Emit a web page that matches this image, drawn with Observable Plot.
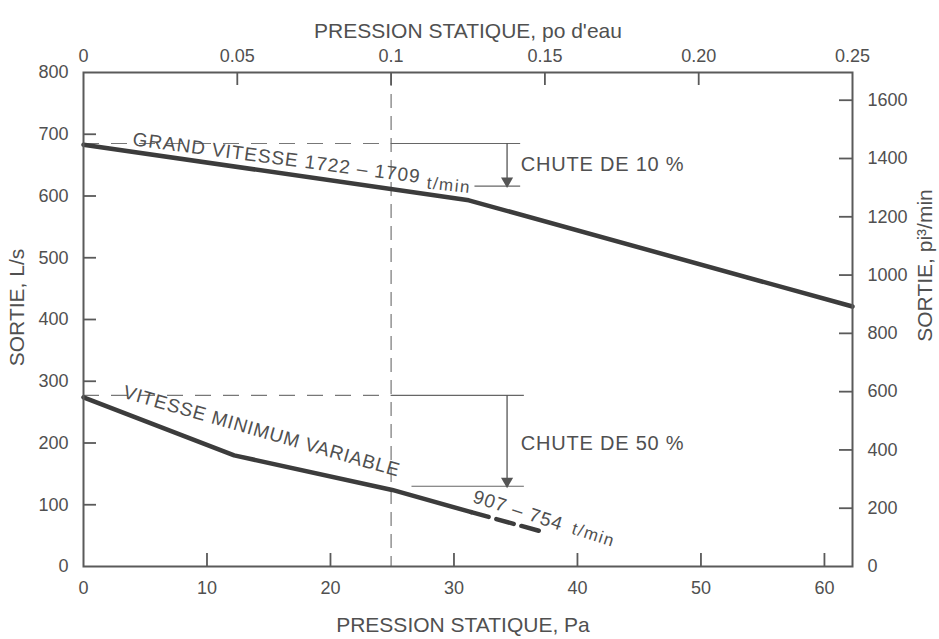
<!DOCTYPE html>
<html>
<head>
<meta charset="utf-8">
<script src="https://cdn.jsdelivr.net/npm/d3@7"></script>
<script src="https://cdn.jsdelivr.net/npm/@observablehq/plot@0.6"></script>
<style>
  html, body { margin: 0; padding: 0; background: #fff; }
</style>
</head>
<body>
<div id="chart"></div>
<script>
// ---- data ----
const PA_PER_INCH_WATER = 249.0889;   // 1 in. water = 249.09 Pa
const CFM_PER_LS = 2.11888;           // 1 L/s = 2.119 ft3/min

const paTicks = [0, 10, 20, 30, 40, 50, 60];
const inchTicks = [0, 0.05, 0.1, 0.15, 0.20, 0.25];
const inchLabels = ["0", "0.05", "0.1", "0.15", "0.20", "0.25"];
const lsTicks = [0, 100, 200, 300, 400, 500, 600, 700, 800];
const cfmTicks = [0, 200, 400, 600, 800, 1000, 1200, 1400, 1600];

// high speed curve (Pa, L/s)
const highPa = [0, 31.2, 62.27];
const highLs = [683, 593, 421];
// minimum variable speed curve (solid part)
const lowPa = [0, 12.2, 25, 31.4];
const lowLs = [274, 180, 124, 88];
// minimum variable speed curve (dashed extension)
const lowExtPa = [31.4, 37.4];
const lowExtLs = [88, 55];

// reference pressure 0.1 in. water
const refInch = 0.1;
// drop indicators
const highDropFrom = 685, highDropTo = 616;   // 10 %
const lowDropFrom = 277, lowDropTo = 130;     // 50 %

const titleTop = "PRESSION STATIQUE, po d'eau";
const titleBottom = "PRESSION STATIQUE, Pa";
const titleLeft = "SORTIE, L/s";
const titleRight = "SORTIE, pi³/min";

const labelHigh = "GRAND VITESSE 1722 – 1709";
const labelLow = "VITESSE MINIMUM VARIABLE";
const labelLowRpm = "907 – 754";
const labelUnit = "t/min";
const labelDrop10 = "CHUTE DE 10 %";
const labelDrop50 = "CHUTE DE 50 %";

// ---- build ----
const refPa = refInch * PA_PER_INCH_WATER;
const xMax = 0.25 * PA_PER_INCH_WATER;
const high = highPa.map((x, i) => ({x, y: highLs[i]}));
const low = lowPa.map((x, i) => ({x, y: lowLs[i]}));
const lowExt = lowExtPa.map((x, i) => ({x, y: lowExtLs[i]}));

const W = 939, H = 639;
const mL = 83, mR = 87, mT = 72, mB = 73;
const frameW = W - mL - mR, frameH = H - mT - mB;
const tickLen = 13;

const ink = "#3c3c3c";
const grey = "#505050";
const axisInk = "#5a5a5a";

const arrowX = 34.3, bracketEnd = 35.4;

const chart = Plot.plot({
  width: W, height: H,
  marginLeft: mL, marginRight: mR, marginTop: mT, marginBottom: mB,
  style: {fontFamily: "'Liberation Sans', Arial, sans-serif", fontSize: "18px", color: grey, background: "#fff"},
  x: {domain: [0, xMax]},
  y: {domain: [0, 800]},
  marks: [
    // reference vertical at 0.1 in. water
    Plot.ruleX([refPa], {stroke: "#777", strokeWidth: 1.2, strokeDasharray: "14,8"}),
    // high speed drop bracket
    Plot.ruleY([highDropFrom], {x1: 0, x2: refPa, stroke: "#777", strokeWidth: 1.2, strokeDasharray: "16,12"}),
    Plot.ruleY([highDropFrom], {x1: refPa, x2: bracketEnd, stroke: "#666", strokeWidth: 1.2}),
    Plot.ruleY([highDropTo], {x1: 31.7, x2: bracketEnd, stroke: "#666", strokeWidth: 1.2}),
    Plot.ruleX([arrowX], {y1: highDropFrom, y2: highDropTo, stroke: "#555", strokeWidth: 1.3}),
    Plot.dot([{x: arrowX, y: highDropTo}], {x: "x", y: "y", symbol: "triangle", rotate: 180, r: 4.5, fill: "#555", dy: -5}),
    Plot.text([labelDrop10], {x: bracketEnd, y: (highDropFrom + highDropTo) / 2, text: d => d, textAnchor: "start", dx: 0, fontSize: 20, fill: grey}),
    // low speed drop bracket
    Plot.ruleY([lowDropFrom], {x1: 0, x2: refPa, stroke: "#777", strokeWidth: 1.2, strokeDasharray: "16,12"}),
    Plot.ruleY([lowDropFrom], {x1: refPa, x2: bracketEnd + 0.3, stroke: "#666", strokeWidth: 1.2}),
    Plot.ruleY([lowDropTo], {x1: 26.6, x2: bracketEnd + 0.3, stroke: "#666", strokeWidth: 1.2}),
    Plot.ruleX([arrowX], {y1: lowDropFrom, y2: lowDropTo, stroke: "#555", strokeWidth: 1.3}),
    Plot.dot([{x: arrowX, y: lowDropTo}], {x: "x", y: "y", symbol: "triangle", rotate: 180, r: 4.5, fill: "#555", dy: -5}),
    Plot.text([labelDrop50], {x: bracketEnd, y: (lowDropFrom + lowDropTo) / 2 - 5, text: d => d, textAnchor: "start", dx: 0, fontSize: 20, fill: grey}),
    // curves
    Plot.line(high, {x: "x", y: "y", stroke: ink, strokeWidth: 4.5}),
    Plot.line(low, {x: "x", y: "y", stroke: ink, strokeWidth: 4.5}),
    Plot.line(lowExt, {x: "x", y: "y", stroke: ink, strokeWidth: 4.5, strokeDasharray: "18,8"}),
    // curve labels
    Plot.text([labelHigh], {x: 4.0, y: 692, text: d => d, textAnchor: "start", rotate: 7.5, fontSize: 19, fill: grey}),
    Plot.text([labelUnit], {x: 27.8, y: 621, text: d => d, textAnchor: "start", rotate: 6, fontSize: 17, fill: grey}),
    Plot.text([labelLow], {x: 3.25, y: 283, text: d => d, textAnchor: "start", rotate: 16, fontSize: 19, fill: grey}),
    Plot.text([labelLowRpm], {x: 31.6, y: 114, text: d => d, textAnchor: "start", rotate: 18, fontSize: 19, fill: grey}),
    Plot.text([labelUnit], {x: 39.6, y: 62, text: d => d, textAnchor: "start", rotate: 18, fontSize: 17, fill: grey}),
    // frame and inward ticks
    Plot.frame({stroke: axisInk, strokeWidth: 2}),
    Plot.tickX(paTicks.filter(d => d > 0), {x: d => d, insetTop: frameH - tickLen, stroke: axisInk, strokeWidth: 1.8}),
    Plot.tickX(inchTicks.filter(d => d > 0 && d < 0.25), {x: d => d * PA_PER_INCH_WATER, insetBottom: frameH - tickLen, stroke: axisInk, strokeWidth: 1.8}),
    Plot.tickY(lsTicks.filter(d => d > 0 && d < 800), {y: d => d, insetRight: frameW - tickLen, stroke: axisInk, strokeWidth: 1.8}),
    Plot.tickY(cfmTicks.filter(d => d > 0), {y: d => d / CFM_PER_LS, insetLeft: frameW - tickLen, stroke: axisInk, strokeWidth: 1.8}),
    // tick labels
    Plot.axisX(paTicks, {anchor: "bottom", tickSize: 0, tickPadding: 15, fontSize: 18, label: null}),
    Plot.axisY(lsTicks, {anchor: "left", tickSize: 0, tickPadding: 15, fontSize: 18, label: null}),
    Plot.text(inchTicks, {x: d => d * PA_PER_INCH_WATER, text: inchLabels, frameAnchor: "top", dy: -23, fontSize: 18, fill: grey}),
    Plot.text(cfmTicks, {y: d => d / CFM_PER_LS, text: d => String(d), frameAnchor: "right", textAnchor: "start", dx: 15, fontSize: 18, fill: grey}),
    // axis titles
    Plot.text([titleTop], {text: d => d, frameAnchor: "top", dy: -49, fontSize: 21, fill: grey}),
    Plot.text([titleBottom], {text: d => d, frameAnchor: "bottom", dy: 65, dx: -5, fontSize: 21, fill: grey}),
    Plot.text([titleLeft], {text: d => d, frameAnchor: "left", textAnchor: "middle", rotate: -90, dx: -66, dy: -12, fontSize: 21, fill: grey}),
    Plot.text([titleRight], {text: d => d, frameAnchor: "right", textAnchor: "middle", rotate: -90, dx: 73, dy: -54, fontSize: 21, fill: grey})
  ]
});
// letter-spaced lettering of the annotations
const spacing = new Map([[labelHigh, "1px"], [labelLow, "0.8px"], [labelLowRpm, "1px"], [labelUnit, "1.5px"], [labelDrop10, "0.8px"], [labelDrop50, "0.8px"]]);
d3.select(chart).selectAll("text").each(function () {
  const s = spacing.get(this.textContent);
  if (s) this.setAttribute("letter-spacing", s);
});
document.getElementById("chart").appendChild(chart);
</script>
</body>
</html>
